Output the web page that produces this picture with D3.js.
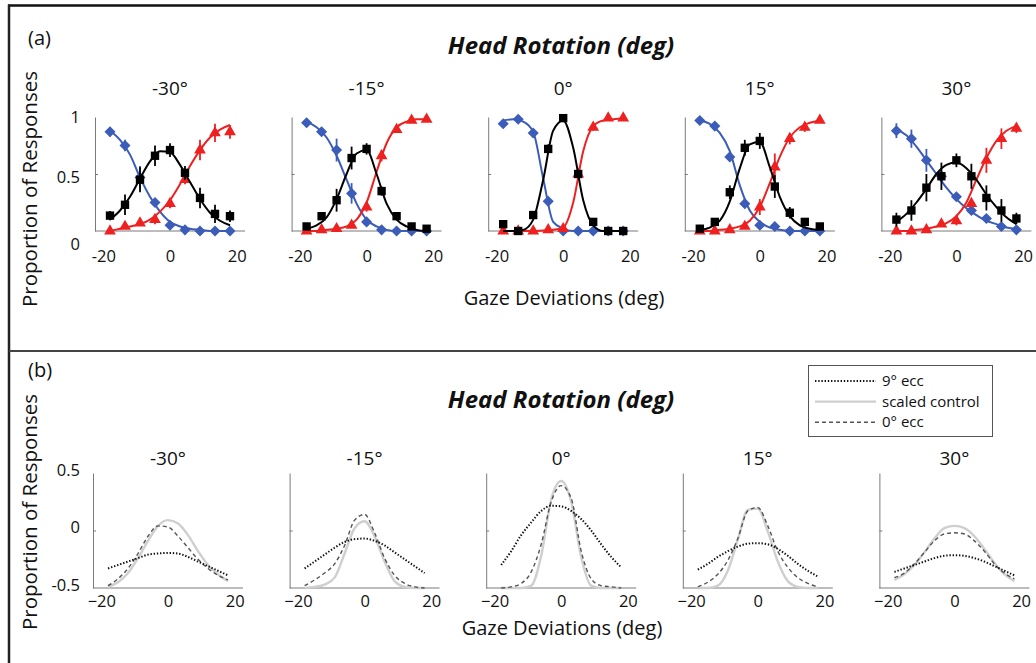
<!DOCTYPE html>
<html>
<head>
<meta charset="utf-8">
<script src="https://cdn.jsdelivr.net/npm/d3@7"></script>
<style>
  html, body { margin: 0; padding: 0; background: #fff; }
  svg { display: block; }
  text { font-family: "Open Sans", "Noto Sans", sans-serif; fill: #111; }
</style>
</head>
<body>
<svg id="chart" width="1036" height="663"></svg>
<script>
// ---------------- DATA ----------------
const headRotations = ["-30°", "-15°", "0°", "15°", "30°"];
const gazeX = [-18, -13.5, -9, -4.5, 0, 4.5, 9, 13.5, 18];
const fitX = [-18, -15, -12, -9, -6, -3, 0, 3, 6, 9, 12, 15, 18];
const topYTicks = [0, 0.5, 1];
const botYTicks = [-0.5, 0, 0.5];
const xTicks = [-20, 0, 20];

// (a) responses per head rotation (blue = left, black = centre, red = right)
const leftResp = [
  [0.87, 0.75, 0.47, 0.25, 0.05, 0.01, 0, 0, 0],
  [0.95, 0.87, 0.71, 0.33, 0.08, 0.01, 0, 0, 0],
  [0.94, 0.98, 0.86, 0.26, 0, 0, 0, 0, 0],
  [0.97, 0.92, 0.65, 0.24, 0.05, 0.04, 0, 0, 0],
  [0.88, 0.81, 0.62, 0.48, 0.30, 0.18, 0.11, 0.04, 0.01]
];
const centerResp = [
  [0.135, 0.23, 0.45, 0.66, 0.71, 0.51, 0.29, 0.15, 0.13],
  [0.04, 0.13, 0.27, 0.64, 0.72, 0.35, 0.13, 0.04, 0.02],
  [0.06, 0.0, 0.14, 0.72, 0.99, 0.50, 0.08, 0.0, 0.0],
  [0.02, 0.08, 0.34, 0.73, 0.79, 0.39, 0.16, 0.08, 0.04],
  [0.10, 0.18, 0.38, 0.48, 0.62, 0.48, 0.29, 0.18, 0.11]
];
const rightResp = [
  [0.0, 0.04, 0.07, 0.10, 0.24, 0.45, 0.71, 0.86, 0.87],
  [0, 0.01, 0.02, 0.05, 0.21, 0.66, 0.89, 0.97, 0.98],
  [0, 0, 0, 0.01, 0.02, 0.50, 0.91, 0.99, 0.99],
  [0, 0, 0.01, 0.04, 0.21, 0.56, 0.81, 0.91, 0.97],
  [0, 0, 0.01, 0.06, 0.09, 0.24, 0.62, 0.81, 0.90]
];
const leftErr = [
  [0.04, 0.05, 0.10, 0.04, 0.02, 0.01, 0.01, 0.01, 0.01],
  [0.02, 0.03, 0.10, 0.09, 0.03, 0.01, 0.01, 0.01, 0.01],
  [0.02, 0.02, 0.03, 0.04, 0.01, 0.01, 0.01, 0.01, 0.01],
  [0.02, 0.02, 0.04, 0.04, 0.02, 0.02, 0.01, 0.01, 0.01],
  [0.065, 0.08, 0.10, 0.05, 0.03, 0.04, 0.02, 0.02, 0.01]
];
const centerErr = [
  [0.04, 0.09, 0.11, 0.09, 0.06, 0.06, 0.09, 0.08, 0.05],
  [0.02, 0.03, 0.10, 0.10, 0.05, 0.04, 0.03, 0.02, 0.01],
  [0.02, 0.01, 0.03, 0.04, 0.02, 0.03, 0.02, 0.01, 0.01],
  [0.02, 0.02, 0.06, 0.07, 0.07, 0.10, 0.05, 0.02, 0.02],
  [0.06, 0.09, 0.12, 0.12, 0.06, 0.11, 0.11, 0.10, 0.05]
];
const rightErr = [
  [0.01, 0.02, 0.02, 0.04, 0.04, 0.04, 0.09, 0.08, 0.06],
  [0.01, 0.01, 0.01, 0.02, 0.04, 0.05, 0.03, 0.02, 0.01],
  [0.01, 0.01, 0.01, 0.01, 0.01, 0.03, 0.03, 0.01, 0.01],
  [0.01, 0.01, 0.01, 0.02, 0.07, 0.12, 0.05, 0.04, 0.02],
  [0.01, 0.01, 0.01, 0.02, 0.04, 0.03, 0.11, 0.09, 0.04]
];
const leftFit = [
  [0.88, 0.80, 0.67, 0.47, 0.30, 0.17, 0.08, 0.04, 0.02, 0.01, 0, 0, 0],
  [0.96, 0.91, 0.82, 0.66, 0.45, 0.24, 0.10, 0.04, 0.01, 0, 0, 0, 0],
  [0.97, 0.98, 0.96, 0.87, 0.46, 0.08, 0.02, 0, 0, 0, 0, 0, 0],
  [0.97, 0.94, 0.86, 0.70, 0.40, 0.18, 0.08, 0.03, 0.01, 0, 0, 0, 0],
  [0.89, 0.84, 0.74, 0.62, 0.50, 0.38, 0.28, 0.20, 0.14, 0.09, 0.06, 0.03, 0.02]
];
const centerFit = [
  [0.10, 0.18, 0.30, 0.46, 0.61, 0.70, 0.69, 0.58, 0.43, 0.28, 0.16, 0.09, 0.05],
  [0.02, 0.05, 0.12, 0.28, 0.50, 0.68, 0.71, 0.50, 0.24, 0.10, 0.04, 0.01, 0],
  [0, 0, 0.01, 0.10, 0.45, 0.88, 0.97, 0.73, 0.27, 0.05, 0, 0, 0],
  [0.01, 0.03, 0.09, 0.26, 0.55, 0.76, 0.78, 0.56, 0.30, 0.13, 0.05, 0.02, 0.01],
  [0.08, 0.15, 0.25, 0.37, 0.50, 0.58, 0.60, 0.55, 0.45, 0.32, 0.21, 0.12, 0.06]
];
const rightFit = [
  [0, 0.02, 0.04, 0.06, 0.10, 0.17, 0.27, 0.41, 0.57, 0.71, 0.82, 0.89, 0.93],
  [0, 0, 0.01, 0.02, 0.04, 0.10, 0.25, 0.52, 0.77, 0.91, 0.96, 0.98, 0.98],
  [0, 0, 0, 0, 0.005, 0.01, 0.03, 0.25, 0.70, 0.92, 0.97, 0.98, 0.99],
  [0, 0, 0.01, 0.02, 0.04, 0.09, 0.21, 0.42, 0.65, 0.82, 0.91, 0.95, 0.97],
  [0, 0, 0.01, 0.02, 0.04, 0.07, 0.13, 0.25, 0.45, 0.64, 0.79, 0.88, 0.92]
];

// (b) curves
const ecc9 = [
  [-0.33, -0.30, -0.27, -0.24, -0.21, -0.20, -0.195, -0.20, -0.23, -0.27, -0.31, -0.35, -0.39],
  [-0.33, -0.27, -0.21, -0.15, -0.10, -0.075, -0.07, -0.09, -0.13, -0.19, -0.25, -0.31, -0.37],
  [-0.30, -0.18, -0.04, 0.07, 0.17, 0.215, 0.21, 0.17, 0.10, 0.0, -0.12, -0.23, -0.32],
  [-0.34, -0.29, -0.23, -0.18, -0.14, -0.115, -0.11, -0.12, -0.16, -0.22, -0.29, -0.35, -0.40],
  [-0.36, -0.33, -0.30, -0.27, -0.24, -0.22, -0.215, -0.22, -0.24, -0.27, -0.31, -0.35, -0.39]
];
const scaledControl = [
  [-0.49, -0.45, -0.37, -0.24, -0.09, 0.04, 0.09, 0.06, -0.04, -0.18, -0.30, -0.38, -0.44],
  [-0.50, -0.49, -0.47, -0.41, -0.20, 0.02, 0.08, -0.05, -0.27, -0.44, -0.49, -0.50, -0.50],
  [-0.50, -0.50, -0.50, -0.48, -0.22, 0.27, 0.43, 0.25, -0.23, -0.48, -0.50, -0.50, -0.50],
  [-0.50, -0.50, -0.48, -0.35, -0.08, 0.18, 0.19, -0.01, -0.27, -0.44, -0.49, -0.50, -0.50],
  [-0.43, -0.38, -0.30, -0.19, -0.07, 0.02, 0.04, 0.02, -0.05, -0.16, -0.28, -0.38, -0.44]
];
const ecc0 = [
  [-0.48, -0.42, -0.33, -0.20, -0.05, 0.04, 0.03, -0.05, -0.15, -0.25, -0.33, -0.39, -0.43],
  [-0.48, -0.43, -0.37, -0.29, -0.13, 0.09, 0.14, -0.02, -0.24, -0.39, -0.46, -0.49, -0.50],
  [-0.50, -0.49, -0.46, -0.36, -0.12, 0.25, 0.39, 0.28, -0.18, -0.42, -0.48, -0.49, -0.50],
  [-0.49, -0.45, -0.38, -0.26, -0.07, 0.17, 0.20, 0.04, -0.18, -0.32, -0.41, -0.46, -0.49],
  [-0.41, -0.37, -0.29, -0.19, -0.09, -0.03, -0.02, -0.03, -0.09, -0.18, -0.29, -0.37, -0.42]
];
const legendLabels = ["9° ecc", "scaled control", "0° ecc"];

// ---------------- DRAWING ----------------
const svg = d3.select("#chart");
const W = 1036, H = 663;

// frame
const frame = svg.append("g");
frame.append("line").attr("x1", 8).attr("x2", W).attr("y1", 5.5).attr("y2", 5.5)
  .attr("stroke", "#111").attr("stroke-width", 2.5);
frame.append("line").attr("x1", 9).attr("x2", 9).attr("y1", 4.5).attr("y2", H)
  .attr("stroke", "#222").attr("stroke-width", 2.5);
frame.append("line").attr("x1", 9).attr("x2", W).attr("y1", 351).attr("y2", 351)
  .attr("stroke", "#444").attr("stroke-width", 2);

// panel letters and titles
svg.append("text").attr("x", 28).attr("y", 45).attr("font-size", 20).text("(a)");
svg.append("text").attr("x", 28).attr("y", 377).attr("font-size", 20).text("(b)");
[[54, "Head Rotation (deg)"], [408, "Head Rotation (deg)"]].forEach(([y, t]) => {
  svg.append("text").attr("x", 561).attr("y", y).attr("text-anchor", "middle")
    .attr("font-size", 24).attr("font-weight", 700).attr("font-style", "italic").text(t);
});
[[189], [512]].forEach(([cy]) => {
  svg.append("text").attr("transform", `translate(37,${cy}) rotate(-90)`)
    .attr("text-anchor", "middle").attr("font-size", 20.5).text("Proportion of Responses");
});
svg.append("text").attr("x", 564).attr("y", 305).attr("text-anchor", "middle")
  .attr("font-size", 20).text("Gaze Deviations (deg)");
svg.append("text").attr("x", 562).attr("y", 635).attr("text-anchor", "middle")
  .attr("font-size", 20).text("Gaze Deviations (deg)");

const blue = "#3b5cb8", red = "#ee2020", black = "#000";
const axisColor = "#7a7a7a";
const panelStep = 196.6;

const diamond = d3.symbolDiamond2 || d3.symbolDiamond;

function styleAxis(g) {
  g.select(".domain").attr("stroke", axisColor).attr("stroke-width", 1);
  g.selectAll(".tick line").attr("stroke", axisColor);
  g.selectAll(".tick text").attr("fill", "#111").attr("font-family", '"Open Sans", "Noto Sans", sans-serif');
}

// ---- (a) ----
const yTop = d3.scaleLinear().domain([0, 1]).range([231, 117]);
headRotations.forEach((hr, i) => {
  const left = 95 + i * panelStep;
  const x = d3.scaleLinear().domain([-22.5, 22.5]).range([left, left + 150]);
  const g = svg.append("g");

  g.append("text").attr("x", x(0)).attr("y", 95).attr("text-anchor", "middle")
    .attr("font-size", 19).text(hr);

  // x axis
  const gx = g.append("g").attr("transform", `translate(0,${yTop(0)})`)
    .call(d3.axisBottom(x).tickValues(xTicks).tickSize(0).tickPadding(19)
      .tickFormat(d => String(d)));
  gx.select(".domain").attr("d", `M${x.range()[0]},0H${x.range()[1]}`);
  gx.selectAll(".tick text").attr("font-size", 16.5);
  styleAxis(gx);

  // y axis
  const gy = g.append("g").attr("transform", `translate(${left},0)`)
    .call(d3.axisLeft(yTop).tickValues(topYTicks).tickSize(-3).tickSizeOuter(0).tickPadding(15)
      .tickFormat(d => i === 0 ? String(d) : ""));
  gy.selectAll(".tick text").attr("font-size", 16.5)
    .attr("dy", d => d === 0 ? "1.1em" : d === 0.5 ? "0.5em" : "0.32em");
  gy.selectAll(".tick").filter(d => d !== 0.5).select("line").remove();
  styleAxis(gy);

  const line = d3.line().x((d, k) => x(fitX[k])).y(d => yTop(d)).curve(d3.curveMonotoneX);

  const series = [
    { fit: leftFit[i], resp: leftResp[i], err: leftErr[i], color: blue, sym: diamond, size: 78 },
    { fit: rightFit[i], resp: rightResp[i], err: rightErr[i], color: red, sym: d3.symbolTriangle, size: 60 },
    { fit: centerFit[i], resp: centerResp[i], err: centerErr[i], color: black, sym: d3.symbolSquare, size: 70 }
  ];
  series.forEach(s => {
    g.append("path").datum(s.fit).attr("d", line).attr("fill", "none")
      .attr("stroke", s.color).attr("stroke-width", 2);
    g.append("g").selectAll("line").data(s.resp).join("line")
      .attr("x1", (d, k) => x(gazeX[k])).attr("x2", (d, k) => x(gazeX[k]))
      .attr("y1", (d, k) => yTop(Math.max(0, d - s.err[k])))
      .attr("y2", (d, k) => yTop(d + s.err[k]))
      .attr("stroke", s.color).attr("stroke-width", 1.8);
    g.append("g").selectAll("path").data(s.resp).join("path")
      .attr("d", d3.symbol().type(s.sym).size(s.size))
      .attr("transform", (d, k) => `translate(${x(gazeX[k])},${yTop(d)})`)
      .attr("fill", s.color);
  });
});

// ---- (b) ----
const yBot = d3.scaleLinear().domain([-0.5, 0.5]).range([588, 473]);
headRotations.forEach((hr, i) => {
  const left = 93 + i * panelStep;
  const x = d3.scaleLinear().domain([-22.5, 22.5]).range([left, left + 150]);
  const g = svg.append("g");

  g.append("text").attr("x", x(0)).attr("y", 465).attr("text-anchor", "middle")
    .attr("font-size", 19).text(hr);

  const gx = g.append("g").attr("transform", `translate(0,${yBot(-0.5)})`)
    .call(d3.axisBottom(x).tickValues(xTicks).tickSize(0).tickPadding(7)
      .tickFormat(d => d < 0 ? "\u2212" + Math.abs(d) : String(d)));
  gx.select(".domain").attr("d", `M${x.range()[0]},0H${x.range()[1]}`);
  gx.selectAll(".tick text").attr("font-size", 16.5);
  styleAxis(gx);

  const gy = g.append("g").attr("transform", `translate(${left},0)`)
    .call(d3.axisLeft(yBot).tickValues(botYTicks).tickSize(-3).tickSizeOuter(0).tickPadding(13)
      .tickFormat(d => i === 0 ? String(d) : ""));
  gy.selectAll(".tick text").attr("font-size", 16.5).attr("dy", "0.15em");
  gy.selectAll(".tick").filter(d => d !== 0).select("line").remove();
  styleAxis(gy);

  const line = d3.line().x((d, k) => x(fitX[k])).y(d => yBot(d)).curve(d3.curveMonotoneX);
  g.append("path").datum(scaledControl[i]).attr("d", line).attr("fill", "none")
    .attr("stroke", "#cfcfcf").attr("stroke-width", 2.4);
  g.append("path").datum(ecc0[i]).attr("d", line).attr("fill", "none")
    .attr("stroke", "#555").attr("stroke-width", 1.4).attr("stroke-dasharray", "4,3");
  g.append("path").datum(ecc9[i]).attr("d", line).attr("fill", "none")
    .attr("stroke", "#111").attr("stroke-width", 2).attr("stroke-dasharray", "1.4,1.8");
});

// legend
const lg = svg.append("g");
lg.append("rect").attr("x", 808.5).attr("y", 365.5).attr("width", 184).attr("height", 71)
  .attr("fill", "#fff").attr("stroke", "#555").attr("stroke-width", 1);
const legendStyles = [
  { stroke: "#111", width: 2, dash: "1.4,1.8" },
  { stroke: "#cfcfcf", width: 2.4, dash: null },
  { stroke: "#555", width: 1.4, dash: "4,3" }
];
legendLabels.forEach((lab, k) => {
  const y = 381 + k * 20.6;
  const st = legendStyles[k];
  lg.append("line").attr("x1", 815).attr("x2", 876).attr("y1", y).attr("y2", y)
    .attr("stroke", st.stroke).attr("stroke-width", st.width)
    .attr("stroke-dasharray", st.dash);
  lg.append("text").attr("x", 882).attr("y", y + 5).attr("font-size", 15).text(lab);
});
</script>
</body>
</html>
